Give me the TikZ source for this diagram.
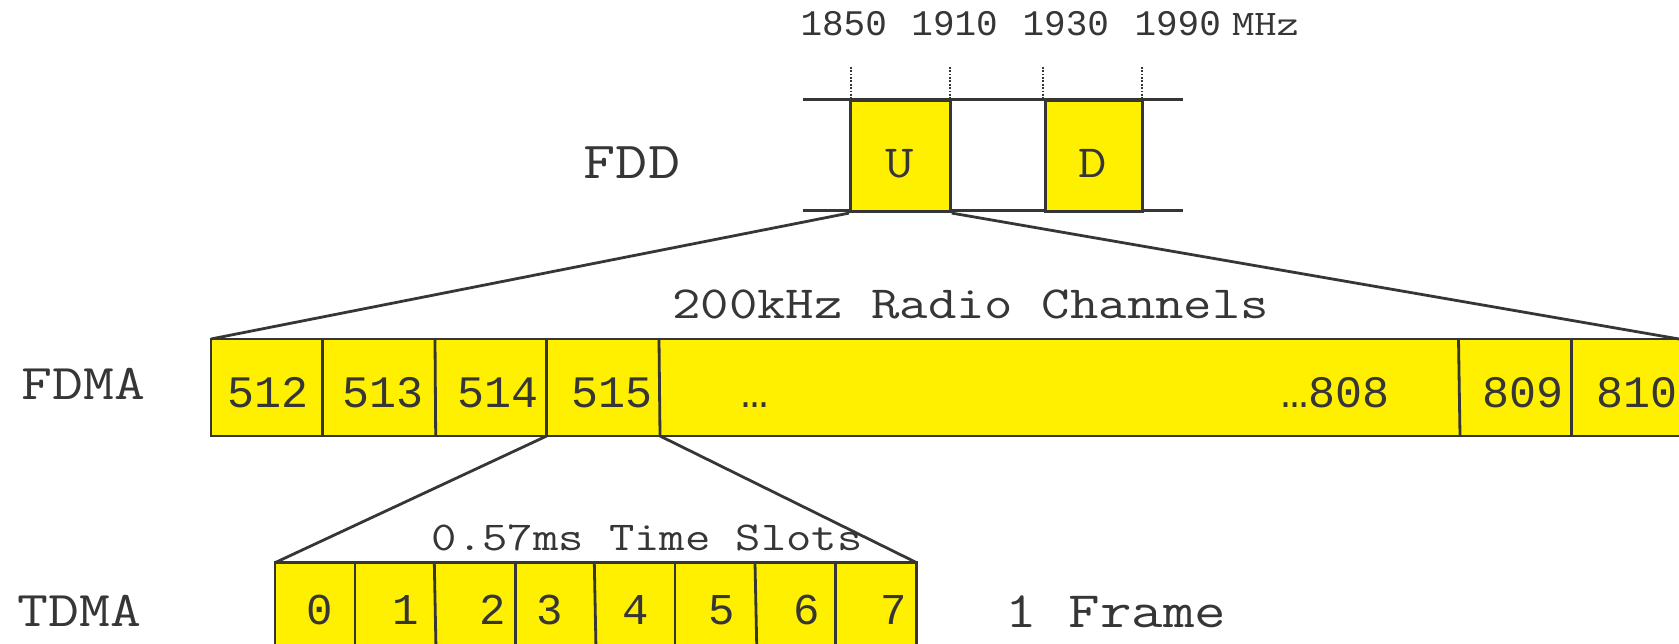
\documentclass[tikz,border=0pt]{standalone}
\usepackage{fontspec}
\newfontfamily\cour[FakeStretch=1.2]{Latin Modern Mono}
\newfontfamily\lmono{Liberation Mono}
\definecolor{ylw}{HTML}{FFF000}
\definecolor{ink}{HTML}{363636}
\begin{document}
\begin{tikzpicture}[x=1pt,y=-1pt,
  band/.style={draw=ink,line width=3pt},
  cellbox/.style={fill=ylw,draw=ink,line width=2.8pt,inner sep=0pt,anchor=north west},
  edge/.style={draw=ink,line width=2.8pt},
  conn/.style={draw=ink,line width=2.8pt},
  tick/.style={draw=ink,line width=2pt,dash pattern=on 1.8pt off 1.6pt},
  num/.style={text=ink,anchor=base,inner sep=0pt,font=\lmono\fontsize{#1pt}{#1pt}\selectfont},
  lbl/.style={text=ink,anchor=base,inner sep=0pt,font=\cour\fontsize{#1pt}{#1pt}\selectfont}]
\useasboundingbox (0,0) rectangle (1679,644);

% ---------- FDD ----------
\draw[band] (803,99.3) -- (1183,99.3);
\draw[band] (803,210.3) -- (1183,210.3);
\node[cellbox,minimum width=100pt,minimum height=111pt] (U) at (849,99.3) {};
\node[cellbox,minimum width=97.3pt,minimum height=111pt] (D) at (1043.7,99.3) {};
\node[lbl=46] (Ut) at (900,177.3) {U};
\node[lbl=46] (Dt) at (1092.7,177.3) {D};
\node[lbl=52] (fdd) at (632,179) {FDD};

\draw[tick] ([xshift=1.5pt]U.north west) -- ++(0,-33);
\draw[tick] ([xshift=-2.3pt]U.north east) -- ++(0,-33);
\draw[tick] ([xshift=-1pt]D.north west) -- ++(0,-33);
\draw[tick] ([xshift=-2pt]D.north east) -- ++(0,-33);

\node[num=36] (f1850) at (843.7,36) {1850};
\node[num=36] (f1910) at (954.6,36) {1910};
\node[num=36] (f1930) at (1065.8,36) {1930};
\node[num=36] (f1990) at (1177.7,36) {1990};
\node[lbl=36] (mhz) at (1265.5,36) {MHz};

% ---------- FDMA ----------
\coordinate (fNW) at (211,339);
\coordinate (fNE) at (1679,339);
\coordinate (fSW) at (211,436);
\coordinate (fSE) at (1679,436);
\fill[ylw] (fNW) rectangle (fSE);
\draw[edge] (fNE) -- (fNW) -- (fSW) -- (fSE);
\draw[edge] (322.7,339) -- (322.7,436);
\draw[edge] (435,339) -- (435.7,436);
\draw[edge] (546.7,339) -- (546.7,436);
\draw[edge] (659,339) -- (660,436);
\draw[edge] (1458.5,339) -- (1460,436);
\draw[edge] (1571.7,339) -- (1571.7,436);
\coordinate (c514) at (546.7,436);
\coordinate (c515) at (660,436);

\node[num=45] (n512) at (268.3,407) {512};
\node[num=45] (n513) at (383.3,407) {513};
\node[num=45] (n514) at (497.7,407) {514};
\node[num=45] (n515) at (612.3,407) {515};
\node[num=45] (ndots) at (755,407) {…};
\node[num=45] (n808) at (1335,407) {…808};
\node[num=45] (n809) at (1523,407) {809};
\node[num=45,anchor=base west] (n810) at (1596,407) {810};

\node[lbl=50] (fdma) at (83.3,399.3) {FDMA};
\node[lbl=46] (radio) at (970.7,319) {200kHz Radio Channels};

\draw[conn] (U.south west) -- (fNW);
\draw[conn] (U.south east) -- (fNE);

% ---------- TDMA ----------
\coordinate (tNW) at (275,562.7);
\coordinate (tNE) at (916.7,562.7);
\coordinate (tSW) at (275,644);
\coordinate (tSE) at (916.7,644);
\fill[ylw] (tNW) rectangle (tSE);
\draw[edge] (tSW) -- (tNW) -- (tNE) -- (tSE);
\draw[edge] (355,562.7) -- (355,644);
\draw[edge] (434.3,562.7) -- (435.9,644);
\draw[edge] (515.3,562.7) -- (515.3,644);
\draw[edge] (594.3,562.7) -- (595.9,644);
\draw[edge] (675,562.7) -- (675,644);
\draw[edge] (755,562.7) -- (756.7,644);
\draw[edge] (835.7,562.7) -- (835.7,644);

\node[num=44] (s0) at (320,624) {0};
\node[num=44] (s1) at (405.7,624) {1};
\node[num=44] (s2) at (492.3,624) {2};
\node[num=44] (s3) at (550,624) {3};
\node[num=44] (s4) at (636,624) {4};
\node[num=44] (s5) at (721.7,624) {5};
\node[num=44] (s6) at (806.7,624) {6};
\node[num=44] (s7) at (893.3,624) {7};

\node[lbl=41] (slots) at (647.2,550.7) {0.57ms Time Slots};
\node[lbl=50] (tdma) at (79.3,626) {TDMA};
\node[lbl=51] (frame) at (1116,627) {1 Frame};

\draw[conn] (c514) -- (tNW);
\draw[conn] (c515) -- (tNE);
\end{tikzpicture}
\end{document}
